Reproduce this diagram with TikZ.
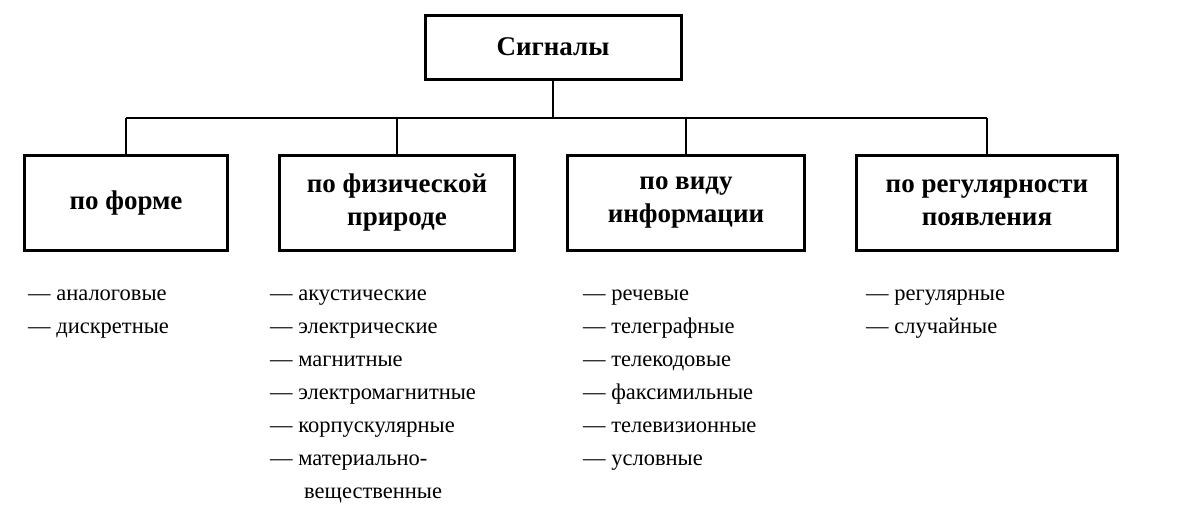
\documentclass[tikz,border=0pt]{standalone}
\usepackage{fontspec}
\setmainfont{Liberation Serif}
\begin{document}
\begin{tikzpicture}[x=1pt,y=-1pt,
  box/.style={draw,line width=3pt,font=\fontsize{27}{33}\selectfont\bfseries,align=center,inner sep=0pt},
  item/.style={anchor=base west,font=\fontsize{22.5}{24}\selectfont,inner sep=0pt},
  conn/.style={line width=1.8pt}]
\useasboundingbox (0,0) rectangle (1200,522);
\node[box,minimum width=256pt,minimum height=64pt] (top) at (553,47) {Сигналы};
\node[box,minimum width=203pt,minimum height=95pt] (b1) at (126,203) {по форме};
\node[box,minimum width=235pt,minimum height=95pt] (b2) at (397,203) {по физической\\природе};
\node[box,minimum width=237pt,minimum height=95pt] (b3) at (686,203) {по виду\\информации};
\node[box,minimum width=261pt,minimum height=95pt] (b4) at (987,203) {по регулярности\\появления};
\coordinate (bus) at (553,118);
\coordinate (c1) at (b1.north |- bus);
\coordinate (c4) at (b4.north |- bus);
\draw[conn] (top.south) -- (bus);
\draw[conn] (c1) -- (c4);
\foreach \b in {b1,b2,b3,b4} \draw[conn] (\b.north |- bus) -- (\b.north);
\node[item] (l11) at (28,300) {— аналоговые};
\node[item] (l12) at (28,333) {— дискретные};
\foreach \t [count=\i] in {акустические,электрические,магнитные,электромагнитные,корпускулярные,материально-}
  \node[item] (l2\i) at (270,{300+(\i-1)*33}) {— \t};
\node[item] (l27) at (304,498) {вещественные};
\foreach \t [count=\i] in {речевые,телеграфные,телекодовые,факсимильные,телевизионные,условные}
  \node[item] (l3\i) at (583,{300+(\i-1)*33}) {— \t};
\node[item] (l41) at (866,300) {— регулярные};
\node[item] (l42) at (866,333) {— случайные};
\end{tikzpicture}
\end{document}
